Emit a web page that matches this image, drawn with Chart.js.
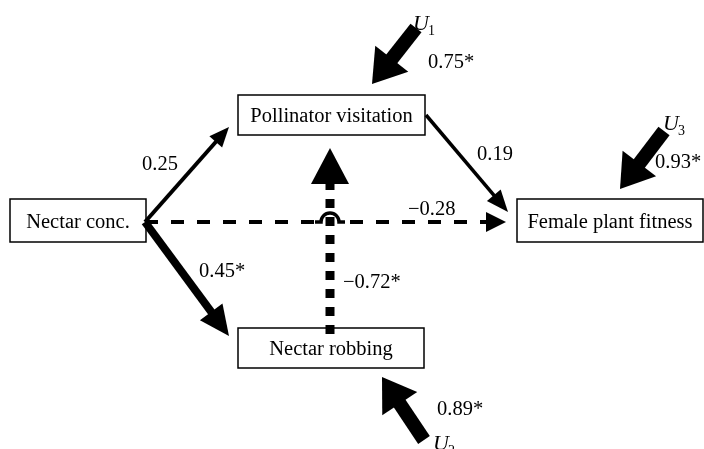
<!DOCTYPE html>
<html><head><meta charset="utf-8">
<script src="https://cdn.jsdelivr.net/npm/chart.js@4.4.0/dist/chart.umd.min.js"></script>
<style>html,body{margin:0;padding:0;background:#fff;overflow:hidden}canvas{display:block}</style>
</head><body>
<canvas id="c" width="704" height="449"></canvas>
<script>
// ---------- DATA ----------
const nodeNames = ['Nectar conc.', 'Pollinator visitation', 'Nectar robbing', 'Female plant fitness'];
const pathFrom = [0, 0, 0, 1, 2];
const pathTo = [1, 2, 3, 3, 1];
const pathCoefficients = [0.25, 0.45, -0.28, 0.19, -0.72];
const pathSignificant = [false, true, false, false, true];
const residualNames = ['1', '2', '3'];
const residualTargets = [1, 2, 3];
const residualCoefficients = [0.75, 0.89, 0.93];
const residualSignificant = [true, true, true];

// ---------- LAYOUT (diagram coordinates) ----------
const nodeBoxes = [
  {x0: 10, y0: 199, x1: 146, y1: 242},
  {x0: 238, y0: 95, x1: 425, y1: 135},
  {x0: 238, y0: 328, x1: 424, y1: 368},
  {x0: 517, y0: 199, x1: 703, y1: 242}
];
const pathGeom = [
  {start: [145, 222], tip: [229, 127], width: 4, head: [20, 17], dash: null, label: [142, 170]},
  {start: [145, 222], tip: [229, 336], width: 8, head: [30, 28], dash: null, label: [199, 277]},
  {start: [145, 222], tip: [506, 222], width: 4, head: [20, 20], dash: [13, 13], label: [408, 215], hop: 330},
  {start: [426, 115], tip: [508, 212], width: 3.5, head: [22, 18], dash: null, label: [477, 160]},
  {start: [330, 334], tip: [330, 148], width: 9, head: [36, 38], dash: [9, 9], label: [343, 288]}
];
const residualGeom = [
  {tail: [416, 28], tip: [372, 84], label: [428, 68], name: [413, 30]},
  {tail: [424, 440], tip: [382, 377], label: [437, 415], name: [433, 450]},
  {tail: [664, 131], tip: [620, 189], label: [655, 168], name: [663, 130]}
];
const FONT = '"Liberation Serif", "Times New Roman", serif';

function fmt(v, sig) {
  return (v < 0 ? '\u2212' : '') + Math.abs(v).toFixed(2) + (sig ? '*' : '');
}

const diagramPlugin = {
  id: 'pathDiagram',
  afterDraw(chart) {
    const ctx = chart.ctx;
    const X = v => chart.scales.x.getPixelForValue(v);
    const Y = v => chart.scales.y.getPixelForValue(v);
    ctx.save();
    ctx.fillStyle = '#000';
    ctx.strokeStyle = '#000';

    function head(tip, dir, len, w) {
      const bx = tip[0] - dir[0] * len, by = tip[1] - dir[1] * len;
      const nx = -dir[1], ny = dir[0];
      ctx.beginPath();
      ctx.moveTo(X(tip[0]), Y(tip[1]));
      ctx.lineTo(X(bx + nx * w / 2), Y(by + ny * w / 2));
      ctx.lineTo(X(bx - nx * w / 2), Y(by - ny * w / 2));
      ctx.closePath();
      ctx.fill();
      return [bx, by];
    }
    function unit(a, b) {
      const dx = b[0] - a[0], dy = b[1] - a[1];
      const l = Math.hypot(dx, dy);
      return [dx / l, dy / l];
    }

    // boxes
    ctx.lineWidth = 1.5;
    nodeNames.forEach((name, i) => {
      const b = nodeBoxes[i];
      ctx.strokeRect(X(b.x0), Y(b.y0), X(b.x1) - X(b.x0), Y(b.y1) - Y(b.y0));
      ctx.font = '20.5px ' + FONT;
      ctx.textAlign = 'center';
      ctx.textBaseline = 'alphabetic';
      ctx.fillText(name, X((b.x0 + b.x1) / 2), Y((b.y0 + b.y1) / 2 + 7));
    });

    // paths
    const order = [0, 1, 3, 2, 4];
    order.forEach(i => {
      const g = pathGeom[i];
      const d = unit(g.start, g.tip);
      const base = head(g.tip, d, g.head[0], g.head[1]);
      const endX = base[0] + d[0] * 1, endY = base[1] + d[1] * 1;
      ctx.lineWidth = g.width;
      ctx.lineCap = 'butt';
      if (g.hop !== undefined) {
        const y = g.start[1];
        const r = 9, sh = 15;
        ctx.setLineDash(g.dash);
        ctx.beginPath();
        ctx.moveTo(X(g.start[0]), Y(y));
        ctx.lineTo(X(g.hop - sh), Y(y));
        ctx.stroke();
        ctx.beginPath();
        ctx.moveTo(X(g.hop + sh + 5), Y(y));
        ctx.lineTo(X(endX), Y(y));
        ctx.stroke();
        ctx.setLineDash([]);
        ctx.lineWidth = 3.5;
        ctx.beginPath();
        ctx.moveTo(X(g.hop - sh), Y(y));
        ctx.lineTo(X(g.hop - r), Y(y));
        ctx.arc(X(g.hop), Y(y), r, Math.PI, 0, false);
        ctx.lineTo(X(g.hop + sh), Y(y));
        ctx.stroke();
      } else {
        ctx.setLineDash(g.dash || []);
        ctx.beginPath();
        ctx.moveTo(X(g.start[0]), Y(g.start[1]));
        ctx.lineTo(X(endX), Y(endY));
        ctx.stroke();
        ctx.setLineDash([]);
      }
      ctx.font = '20.5px ' + FONT;
      ctx.textAlign = 'left';
      ctx.textBaseline = 'alphabetic';
      ctx.fillText(fmt(pathCoefficients[i], pathSignificant[i]), X(g.label[0]), Y(g.label[1]));
    });

    // residual arrows
    residualNames.forEach((n, i) => {
      const g = residualGeom[i];
      const d = unit(g.tail, g.tip);
      const base = head(g.tip, d, 32, 42);
      ctx.lineWidth = 14;
      ctx.lineCap = 'butt';
      ctx.beginPath();
      ctx.moveTo(X(g.tail[0]), Y(g.tail[1]));
      ctx.lineTo(X(base[0] + d[0]), Y(base[1] + d[1]));
      ctx.stroke();
      ctx.font = '20.5px ' + FONT;
      ctx.textAlign = 'left';
      ctx.fillText(fmt(residualCoefficients[i], residualSignificant[i]), X(g.label[0]), Y(g.label[1]));
      ctx.font = 'italic 22px ' + FONT;
      ctx.fillText('U', X(g.name[0]), Y(g.name[1]));
      const w = ctx.measureText('U').width;
      ctx.font = '14px ' + FONT;
      ctx.fillText(n, X(g.name[0]) + w - 1, Y(g.name[1] + 5));
    });
    ctx.restore();
  }
};

new Chart(document.getElementById('c'), {
  type: 'scatter',
  data: {datasets: [{data: [], pointRadius: 0}]},
  options: {
    responsive: false,
    animation: false,
    layout: {padding: 0},
    plugins: {legend: {display: false}, tooltip: {enabled: false}},
    scales: {
      x: {type: 'linear', min: 0, max: 704, display: false},
      y: {type: 'linear', min: 0, max: 449, reverse: true, display: false}
    }
  },
  plugins: [diagramPlugin]
});
</script>
</body></html>
